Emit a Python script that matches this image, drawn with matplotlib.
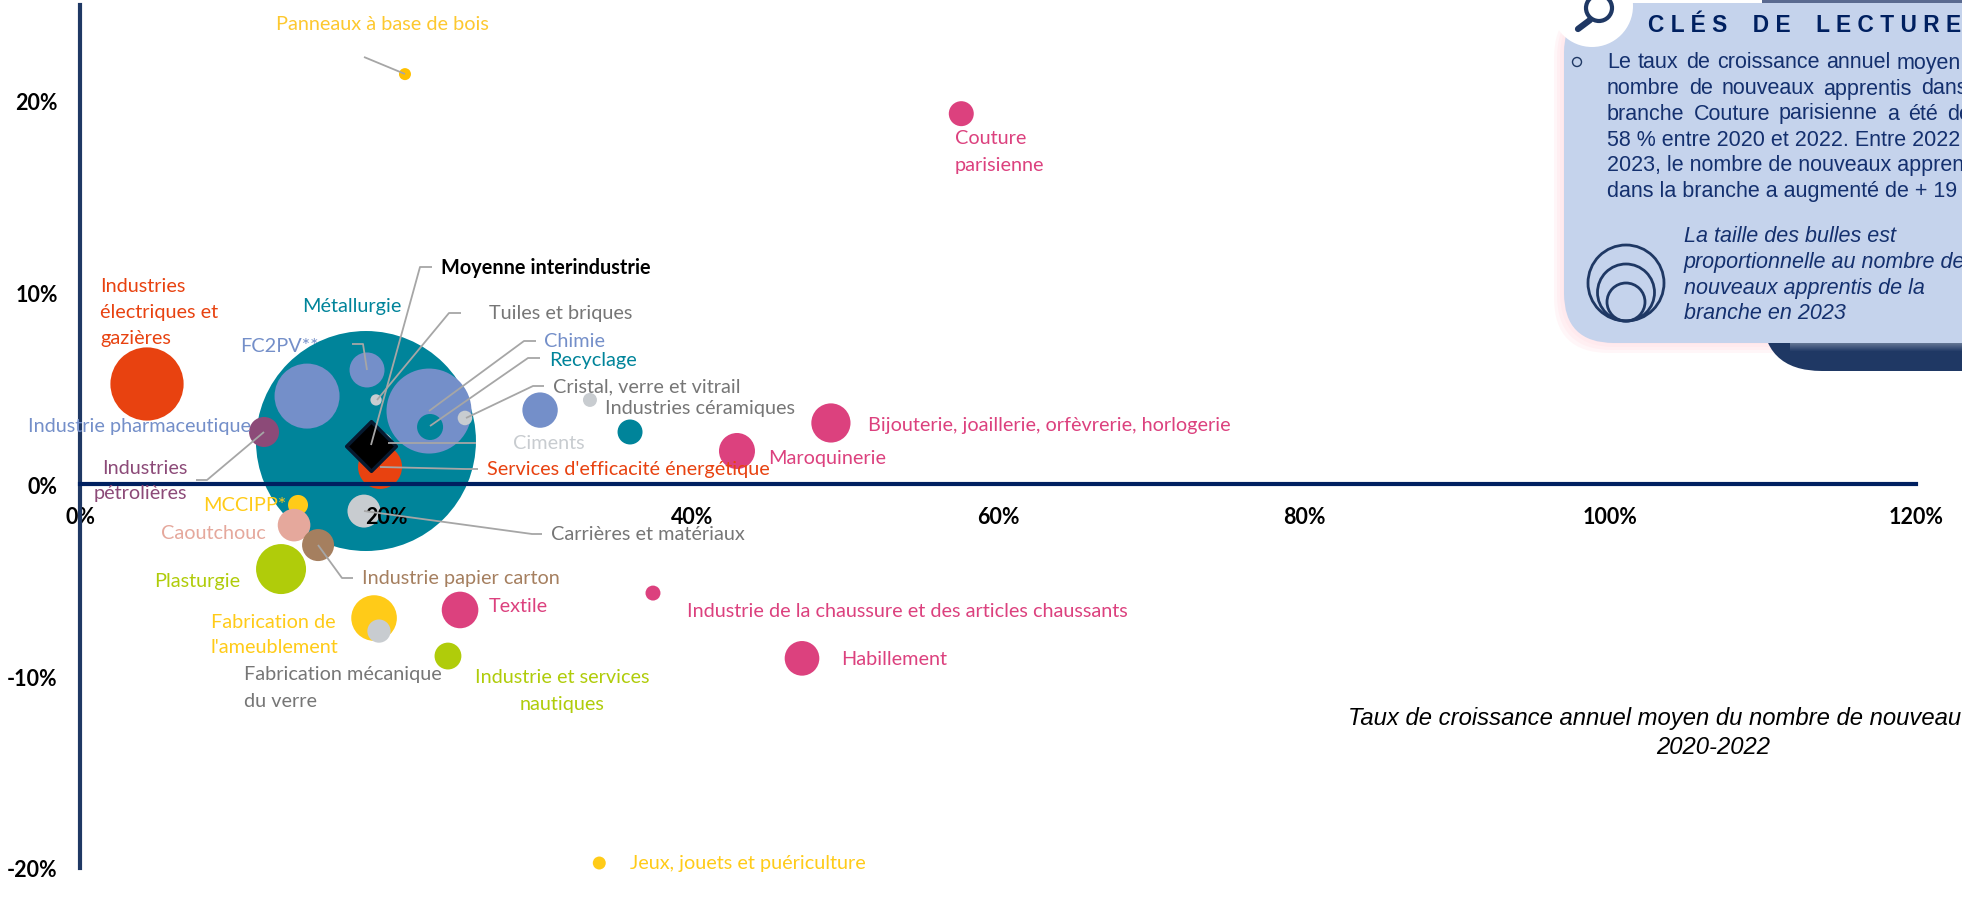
import matplotlib
matplotlib.use("Agg")
import matplotlib.pyplot as plt
from matplotlib.patches import Circle, FancyBboxPatch

# Valeurs
branches = ["Métallurgie", "Industrie pharmaceutique", "FC2PV", "Chimie", "Recyclage", "Tuiles et briques",
            "Cristal, verre et vitrail", "Services d'efficacité énergétique", "Ciments", "Industries pétrolières",
            "Industries électriques et gazières", "MCCIPP", "Caoutchouc", "Carrières et matériaux",
            "Industrie papier carton", "Plasturgie", "Fabrication de l'ameublement", "Fabrication mécanique du verre",
            "Textile", "Industrie et services nautiques", "Sans étiquette 1", "Industries céramiques",
            "Sans étiquette 2", "Maroquinerie", "Bijouterie", "Habillement", "Chaussure", "Couture parisienne",
            "Panneaux à base de bois", "Jeux, jouets et puériculture"]
taux_2020_2022 = [18.69, 14.84, 18.76, 22.81, 22.88, 19.35, 25.16, 19.61, 19.61, 12.03, 4.38, 14.25, 13.99, 18.56,
                  15.56, 13.14, 19.22, 19.54, 24.84, 24.05, 30.07, 33.33, 35.95, 42.94, 49.08, 47.19, 37.45, 57.6,
                  21.24, 33.94]
taux_2022_2023 = [2.24, 4.58, 5.94, 3.80, 2.97, 4.38, 3.44, 0.89, 2.03, 2.71, 5.21, -1.09, -2.14, -1.41, -3.18,
                  -4.43, -6.98, -7.66, -6.56, -8.96, 3.85, 4.38, 2.71, 1.72, 3.18, -9.08, -5.68, 19.29, 21.35,
                  -19.74]
apprentis = [12100, 1056, 306, 1806, 169, 32, 53, 484, 169, 225, 1340, 100, 266, 272, 256, 625, 520, 135, 335, 180,
             313, 49, 156, 324, 384, 300, 56, 156, 36, 42]

TEAL = "#00849a"
LAV = "#748fc9"
GRIS = "#c8ccd0"
ORANGE = "#e84210"
JAUNE = "#ffcb18"
ROSE = "#dc417e"
VERT = "#b0cc0a"
couleurs = [TEAL, LAV, LAV, LAV, TEAL, GRIS, GRIS, ORANGE, GRIS, "#8c4a78", ORANGE, JAUNE, "#e5a89c", GRIS,
            "#a57f5f", VERT, JAUNE, GRIS, ROSE, VERT, LAV, GRIS, TEAL, ROSE, ROSE, ROSE, ROSE, ROSE, "#ffc000",
            JAUNE]

moyenne_x = 19.02
moyenne_y = 1.98
x_ticks = [0, 20, 40, 60, 80, 100, 120]
y_ticks = [-20, -10, 0, 10, 20]

NAVY = "#1f3864"
BLEU_TEXTE = "#14306e"
L_FONT = "Lato"
A_FONT = "Liberation Sans"
FS = 14.3

fig = plt.figure(figsize=(19.62, 9.04), dpi=100)
ax = fig.add_axes([80 / 1962, 35 / 904, 1836 / 1962, 863 / 904])
ax.set_xlim(0, 120)
ax.set_ylim(-20, 24.95)
ax.patch.set_visible(False)

# Bulles
tailles = [a * 2.0736 for a in apprentis]
ax.scatter(taux_2020_2022, taux_2022_2023, s=tailles, c=couleurs, linewidths=0, clip_on=False)
ax.scatter([moyenne_x], [moyenne_y], s=640, marker="D", c="black", edgecolors="#071a30", linewidths=2.5, zorder=2,
           clip_on=False)

for s in ["top", "right"]:
    ax.spines[s].set_visible(False)
ax.spines["bottom"].set_position(("data", 0))
ax.spines["bottom"].set_color("#002060")
ax.spines["bottom"].set_linewidth(3)
ax.spines["left"].set_color(NAVY)
ax.spines["left"].set_linewidth(3)
ax.set_xticks(x_ticks)
ax.set_xticklabels([f"{v}%" for v in x_ticks])
ax.set_yticks(y_ticks)
ax.set_yticklabels([f"{v}%" for v in y_ticks])
ax.tick_params(axis="x", length=0, pad=16, labelsize=15.5)
ax.tick_params(axis="y", length=0, pad=16, labelsize=15.5)
for t in ax.get_xticklabels() + ax.get_yticklabels():
    t.set_fontfamily(L_FONT)
    t.set_fontweight("bold")
    t.set_zorder(5)

# Surcouche en pixels pour les textes et l'encadré
ov = fig.add_axes([0, 0, 1, 1])
ov.set_xlim(0, 1962)
ov.set_ylim(904, 0)
ov.axis("off")
ov.patch.set_visible(False)

def etiquette(x, y, texte, couleur, ha="left", bold=False):
    ov.text(x, y + 2, texte, color=couleur, ha=ha, va="center", family=L_FONT, fontsize=FS,
            fontweight="bold" if bold else "normal", zorder=6)

def trait(xs, ys):
    ov.plot(xs, ys, color="#a6a6a6", lw=1.3, solid_capstyle="butt", zorder=4)

GT = "#767676"
etiquette(276, 22, "Panneaux à base de bois", "#fdc82f")
etiquette(955, 137, "Couture", ROSE)
etiquette(955, 163, "parisienne", ROSE)
etiquette(441, 266, "Moyenne interindustrie", "black", bold=True)
etiquette(489, 312, "Tuiles et briques", GT)
etiquette(302, 305, "Métallurgie", TEAL)
etiquette(240, 345, "FC2PV**", LAV)
etiquette(544, 340, "Chimie", LAV)
etiquette(549, 359, "Recyclage", TEAL)
etiquette(553, 385, "Cristal, verre et vitrail", GT)
etiquette(605, 407, "Industries céramiques", GT)
etiquette(513, 442, "Ciments", GRIS)
etiquette(487, 468, "Services d'efficacité énergétique", ORANGE)
etiquette(768, 457, "Maroquinerie", ROSE)
etiquette(868, 424, "Bijouterie, joaillerie, orfèvrerie, horlogerie", ROSE)
etiquette(28, 425, "Industrie pharmaceutique", LAV)
etiquette(100, 285, "Industries", ORANGE)
etiquette(100, 311, "électriques et", ORANGE)
etiquette(100, 337, "gazières", ORANGE)
etiquette(187, 467, "Industries", "#8c4a78", ha="right")
etiquette(187, 492, "pétrolières", "#8c4a78", ha="right")
etiquette(203, 504, "MCCIPP*", JAUNE)
etiquette(161, 532, "Caoutchouc", "#e5a89c")
etiquette(551, 533, "Carrières et matériaux", GT)
etiquette(362, 577, "Industrie papier carton", "#a57f5f")
etiquette(154, 580, "Plasturgie", VERT)
etiquette(489, 605, "Textile", ROSE)
etiquette(211, 621, "Fabrication de", JAUNE)
etiquette(211, 646, "l'ameublement", JAUNE)
etiquette(244, 673, "Fabrication mécanique", GT)
etiquette(244, 700, "du verre", GT)
etiquette(562, 676, "Industrie et services", VERT, ha="center")
etiquette(562, 703, "nautiques", VERT, ha="center")
etiquette(687, 610, "Industrie de la chaussure et des articles chaussants", ROSE)
etiquette(841, 658, "Habillement", ROSE)
etiquette(630, 862, "Jeux, jouets et puériculture", JAUNE)

trait([364, 405], [58, 75])
trait([432, 420, 371], [268, 268, 446])
trait([461, 449, 377], [314, 314, 401])
trait([536, 524, 429], [342, 342, 412])
trait([540, 528, 430], [359, 359, 427])
trait([544, 533, 466], [387, 387, 419])
trait([476, 388], [444, 444])
trait([478, 465, 380], [470, 470, 468])
trait([542, 532, 364], [535, 535, 512])
trait([352, 363, 367], [345, 345, 371])
trait([196, 207, 264], [481, 481, 433])
trait([353, 342, 318], [579, 579, 546])

# Titre d'axe
ov.text(1348, 719, "Taux de croissance annuel moyen du nombre de nouveau", style="italic", family=A_FONT,
        fontsize=17.2, color="black", va="center", ha="left", zorder=6)
ov.text(1713, 748, "2020-2022", style="italic", family=A_FONT, fontsize=17.2, color="black", va="center",
        ha="center", zorder=6)

# Encadré "clés de lecture"
for i in range(4):
    ov.add_patch(FancyBboxPatch((1564 - 10 + i * 3, 4), 600, 350 - i * 3, boxstyle="round,pad=0,rounding_size=55",
                                fc="#ffd9e0", ec="none", alpha=0.22, zorder=6.5))
ov.add_patch(FancyBboxPatch((1762, -40), 400, 412, boxstyle="round,pad=0,rounding_size=60", fc=NAVY, ec="none", zorder=7))
# degrade clair sous l'encadre et bande du haut
for i in range(8):
    ov.fill_between([1790, 1962], 344 + i, 345 + i, color="white", alpha=0.3 * (1 - i / 8), lw=0, zorder=7.5)
ov.fill_between([1762, 1962], 0, 4, color="#5a6a90", lw=0, zorder=7.5)
ov.add_patch(FancyBboxPatch((1564, 4), 600, 340, boxstyle="round,pad=0,rounding_size=50", fc="#c5d3ec", ec="none", zorder=8))
ov.add_patch(Circle((1592, 7), 41, fc="white", ec="none", zorder=9))
ov.add_patch(Circle((1599, 9), 13, fc="none", ec=NAVY, lw=3, zorder=10))
ov.plot([1590, 1578], [21, 30], color=NAVY, lw=4.5, solid_capstyle="round", zorder=10)

ov.text(1648, 25, "C L É S    D E    L E C T U R E", family=A_FONT, fontweight="bold", fontsize=16.4, color="#002060",
        va="center", zorder=10)
ov.add_patch(Circle((1577, 63), 4.5, fc="none", ec=NAVY, lw=1, zorder=10))

def mots(y, liste):
    for x, m in liste:
        ov.text(x, y + 2, m, family=A_FONT, fontsize=15.5, color=BLEU_TEXTE, va="center", zorder=10)

mots(61, [(1607, "Le"), (1638, "taux"), (1686, "de"), (1717, "croissance"), (1826, "annuel"), (1897, "moyen")])
mots(87, [(1607, "nombre"), (1689, "de"), (1722, "nouveaux"), (1823, "apprentis"), (1921, "dans")])
mots(112, [(1607, "branche"), (1694, "Couture"), (1779, "parisienne"), (1887, "a"), (1908, "été"), (1947, "de")])
mots(138, [(1607, "58 % entre 2020 et 2022. Entre 2022")])
mots(163, [(1607, "2023, le nombre de nouveaux appren")])
mots(189, [(1607, "dans la branche a augmenté de + 19")])

for y, ligne in zip([235, 261, 287, 312], ["La taille des bulles est", "proportionnelle au nombre de",
                                           "nouveaux apprentis de la", "branche en 2023"]):
    ov.text(1684, y + 2, ligne, family=A_FONT, style="italic", fontsize=15.5, color=BLEU_TEXTE, va="center", zorder=10)

for cy, r in [(284, 38), (293.5, 28.5), (303, 19)]:
    ov.add_patch(Circle((1626, cy), r, fc="none", ec=NAVY, lw=2, zorder=10))

fig.savefig("out.png", dpi=100)
